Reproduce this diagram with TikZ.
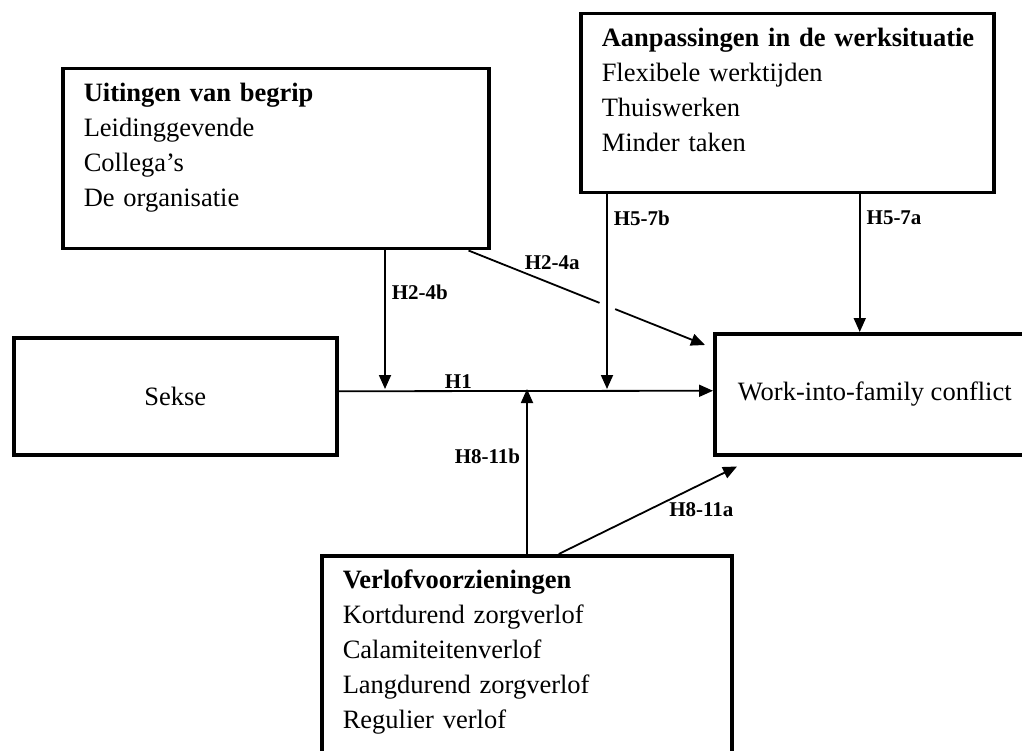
\documentclass[tikz,border=0pt]{standalone}
\usepackage{fontspec}
\setmainfont{Liberation Serif}
\usetikzlibrary{arrows.meta, positioning, calc}

\begin{document}
\begin{tikzpicture}[
  x=1pt, y=-1pt,
  font=\fontsize{26.5}{35}\selectfont,
  listbox/.style={draw, line width=3.5pt, align=left, anchor=north west, inner xsep=21pt, inner ysep=15pt, text height=18pt},
  varbox/.style={draw, line width=3.5pt, anchor=north west, align=center},
  conn/.style={line width=1.8pt},
  arr/.style={conn, -{Triangle[length=14pt, width=12pt]}},
  hyp/.style={font=\fontsize{21}{24}\selectfont\bfseries, inner sep=2pt},
]
\useasboundingbox (0,0) rectangle (1022,751);

% the five variables
\node[listbox, text width=384pt, text depth=132pt] (begrip) at (61,67) {\textbf{Uitingen van begrip}\\Leidinggevende\\Collega’s\\De organisatie};
\node[listbox, text width=371pt, text depth=131pt] (werk) at (579,12) {\mbox{\textbf{Aanpassingen in de werksituatie}}\\Flexibele werktijden\\Thuiswerken\\Minder taken};
\node[varbox, minimum width=323pt, minimum height=117pt] (sekse) at (12,336) {Sekse};
\node[varbox, minimum width=320pt, minimum height=121pt] (wfc) at (713,332) {Work-into-family conflict};
\node[listbox, text width=368pt, text depth=177pt] (verlof) at (320,554) {\textbf{Verlofvoorzieningen}\\Kortdurend zorgverlof\\Calamiteitenverlof\\Langdurend zorgverlof\\Regulier verlof};

% main effect and the points where moderators meet it
\coordinate (j1) at (385,389);
\coordinate (j2) at (607,389);
\coordinate (j3) at (527,389);
\draw[arr] ([yshift=5pt]sekse.east) -- ([yshift=3.5pt]wfc.west) node[hyp, above, pos=0.32] (lh1) {H1};

% moderating paths
\draw[arr] (begrip.south -| j1) -- (j1) node[hyp, right=4pt, pos=0.3] (lh24b) {H2-4b};
\draw[arr] (werk.south -| j2) -- (j2) node[hyp, right=4pt, pos=0.12] (lh57b) {H5-7b};
\draw[arr] (verlof.north -| j3) -- (j3) node[hyp, left=4pt, pos=0.59] (lh811b) {H8-11b};

% direct paths
\coordinate (a4s) at ([xshift=-22pt]begrip.south east);
\coordinate (a4e) at ([xshift=-8pt,yshift=-13pt]wfc.north west);
\draw[conn] (a4s) -- ($(a4s)!0.554!(a4e)$);
\draw[arr] ($(a4s)!0.62!(a4e)$) -- (a4e);
\node[hyp, above=12pt] (lh24a) at ($(a4s)!0.354!(a4e)$) {H2-4a};
\draw[arr] ([xshift=-15pt]wfc.north |- werk.south) -- ([xshift=-15pt]wfc.north) node[hyp, right=4pt, pos=0.17] (lh57a) {H5-7a};
\draw[arr] ([xshift=32pt]verlof.north) -- ([xshift=24pt,yshift=-10pt]wfc.south west) node[hyp, below=16pt, pos=0.8] (lh811a) {H8-11a};
\end{tikzpicture}
\end{document}
